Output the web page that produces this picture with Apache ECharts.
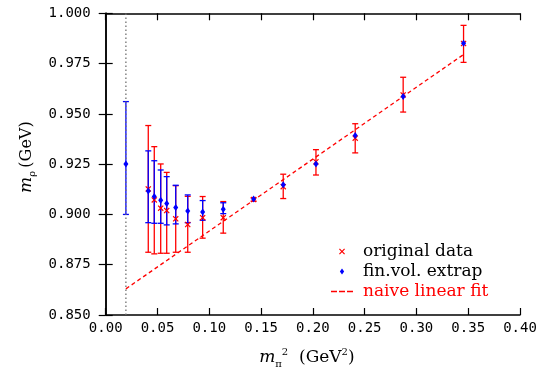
<!DOCTYPE html>
<html>
<head>
<meta charset="utf-8">
<script src="https://cdn.jsdelivr.net/npm/echarts@6/dist/echarts.min.js"></script>
<style>html,body{margin:0;padding:0;background:#fff}#c{width:549px;height:377px}</style>
</head>
<body>
<div id="c"></div>
<script>
// x values (m_pi^2, GeV^2) of the lattice points
const pionX = [0.0411, 0.0469, 0.0531, 0.0589, 0.0676, 0.0792, 0.0936, 0.1135, 0.1428, 0.1714, 0.2030, 0.2409, 0.2872, 0.3455];
// original data (m_rho, GeV) with error range
const origY  = [0.9127, 0.9072, 0.9031, 0.9019, 0.8978, 0.8950, 0.8984, 0.8984, 0.9074, 0.9138, 0.9262, 0.9379, 0.9594, 0.9850];
const origLo = [0.8812, 0.8804, 0.8807, 0.8807, 0.8812, 0.8812, 0.8882, 0.8907, 0.9066, 0.9079, 0.9196, 0.9306, 0.9509, 0.9756];
const origHi = [0.9442, 0.9337, 0.9251, 0.9209, 0.9143, 0.9090, 0.9089, 0.9064, 0.9082, 0.9200, 0.9322, 0.9451, 0.9682, 0.9940];
// finite-volume extrapolated points (first one is at the physical pion mass)
const finX  = [0.0195, 0.0411, 0.0469, 0.0531, 0.0589, 0.0676, 0.0792, 0.0936, 0.1135, 0.1428, 0.1714, 0.2030, 0.2409, 0.2872, 0.3455];
const finY  = [0.9251, 0.9117, 0.9089, 0.9071, 0.9054, 0.9034, 0.9017, 0.9012, 0.9026, 0.9077, 0.9147, 0.9251, 0.9392, 0.9586, 0.9851];
const finLo = [0.9000, 0.8959, 0.8956, 0.8956, 0.8948, 0.8953, 0.8959, 0.8971, 0.9004, null, null, null, null, null, null];
const finHi = [0.9561, 0.9316, 0.9267, 0.9221, 0.9188, 0.9145, 0.9097, 0.9069, 0.9058, null, null, null, null, null, null];
// naive linear fit end points
const fitX = [0.0195, 0.3455];
const fitY = [0.8630, 0.9795];
// physical pion mass squared
const physX = 0.0195;
// axis ranges / ticks
const xMin = 0, xMax = 0.40, xStep = 0.05;
const yMin = 0.85, yMax = 1.0, yStep = 0.025;

const crossPath = 'path://M0,1.4L1.4,0L5,3.6L8.6,0L10,1.4L6.4,5L10,8.6L8.6,10L5,6.4L1.4,10L0,8.6L3.6,5Z';
const diamondPath = 'path://M5,0L10,7L5,14L0,7Z';
const dashPath = 'path://M0,0H6V1.4H0Z M8,0H14V1.4H8Z M16,0H22V1.4H16Z';

function errRender(color) {
  return function (params, api) {
    const x = api.value(0), lo = api.value(1), hi = api.value(2);
    const a = api.coord([x, hi]), b = api.coord([x, lo]);
    const w = 3;
    const st = { stroke: color, lineWidth: 1.3 };
    return {
      type: 'group',
      children: [
        { type: 'line', shape: { x1: a[0], y1: a[1], x2: b[0], y2: b[1] }, style: st },
        { type: 'line', shape: { x1: a[0] - w, y1: a[1], x2: a[0] + w, y2: a[1] }, style: st },
        { type: 'line', shape: { x1: b[0] - w, y1: b[1], x2: b[0] + w, y2: b[1] }, style: st }
      ]
    };
  };
}

const origErr = pionX.map((x, i) => [x, origLo[i], origHi[i]]);
const finErr = finX.map((x, i) => [x, finLo[i], finHi[i]]).filter(d => d[1] !== null);

const axisCommon = {
  type: 'value',
  axisLine: { lineStyle: { color: '#000', width: 1.5 } },
  axisTick: { inside: true, length: 7, lineStyle: { color: '#000', width: 1.2 } },
  splitLine: { show: false }
};
const labelFont = { color: '#000', fontFamily: 'DejaVu Sans Mono', fontSize: 14 };
const serif = 'DejaVu Serif';

const option = {
  animation: false,
  backgroundColor: '#fff',
  grid: { left: 105.7, right: 29, top: 13.3, bottom: 62 },
  xAxis: [
    Object.assign({}, axisCommon, {
      min: xMin, max: xMax, interval: xStep, position: 'bottom',
      axisLabel: Object.assign({ margin: 6, formatter: v => v.toFixed(2) }, labelFont),
      name: '{m|m}{s|π}{p|2}{t|  (GeV}{p|2}{t|)}',
      nameLocation: 'middle', nameGap: 31,
      nameTextStyle: {
        padding: [0, 12, 0, 0],
        rich: {
          m: { fontFamily: serif, fontStyle: 'italic', fontSize: 17, lineHeight: 20, verticalAlign: 'bottom', color: '#000' },
          s: { fontFamily: serif, fontSize: 10, lineHeight: 10, verticalAlign: 'bottom', color: '#000', padding: [0, 0, -3, 0] },
          p: { fontFamily: serif, fontSize: 10, lineHeight: 10, verticalAlign: 'top', color: '#000', padding: [1, 0, 0, 0] },
          t: { fontFamily: serif, fontSize: 17, lineHeight: 20, verticalAlign: 'bottom', color: '#000' }
        }
      }
    }),
    Object.assign({}, axisCommon, {
      min: xMin, max: xMax, interval: xStep, position: 'top',
      axisLabel: { show: false }
    })
  ],
  yAxis: [
    Object.assign({}, axisCommon, {
      min: yMin, max: yMax, interval: yStep, position: 'left',
      axisLabel: Object.assign({ margin: 15, formatter: v => v.toFixed(3) }, labelFont),
      name: '{m|m}{s|ρ} {t|(GeV)}',
      nameLocation: 'middle', nameGap: 55, nameRotate: 90,
      nameTextStyle: {
        padding: [0, 0, 0, 14],
        rich: {
          m: { fontFamily: serif, fontStyle: 'italic', fontSize: 17, lineHeight: 20, verticalAlign: 'bottom', color: '#000' },
          s: { fontFamily: serif, fontSize: 10, lineHeight: 10, verticalAlign: 'bottom', color: '#000', padding: [0, 0, -3, 0] },
          t: { fontFamily: serif, fontSize: 16, lineHeight: 20, verticalAlign: 'bottom', color: '#000' }
        }
      }
    }),
    Object.assign({}, axisCommon, {
      min: yMin, max: yMax, interval: yStep, position: 'right',
      axisLabel: { show: false }
    })
  ],
  legend: {
    orient: 'vertical', left: 326, top: 236.5, itemWidth: 22, itemHeight: 6, itemGap: 0,
    selectedMode: false,
    textStyle: { fontFamily: serif, fontSize: 17, lineHeight: 20, color: '#000', padding: [0, 0, 0, 5] },
    data: [
      { name: 'original data', icon: crossPath },
      { name: 'fin.vol. extrap', icon: diamondPath },
      { name: 'naive linear fit', icon: dashPath, itemStyle: { color: '#ff0000' }, textStyle: { color: '#ff0000' } }
    ]
  },
  series: [
    {
      name: 'physical', type: 'line', symbol: 'none', silent: true,
      data: [[physX, yMin], [physX, yMax]],
      lineStyle: { color: '#707070', width: 1.3, type: [1.5, 2.5] }
    },
    {
      name: 'origErr', type: 'custom', renderItem: errRender('#ff0000'),
      encode: { x: 0, y: [1, 2] }, data: origErr, z: 2
    },
    {
      name: 'finErr', type: 'custom', renderItem: errRender('#0000ff'),
      encode: { x: 0, y: [1, 2] }, data: finErr, z: 2
    },
    {
      name: 'original data', type: 'scatter', symbol: crossPath, symbolSize: 6,
      itemStyle: { color: '#ff0000', opacity: 1 },
      data: pionX.map((x, i) => [x, origY[i]]), z: 3
    },
    {
      name: 'fin.vol. extrap', type: 'scatter', symbol: diamondPath, symbolSize: [5, 7],
      itemStyle: { color: '#0000ff', opacity: 1 },
      data: finX.map((x, i) => [x, finY[i]]), z: 4
    },
    {
      name: 'naive linear fit', type: 'line', symbol: 'none',
      data: fitX.map((x, i) => [x, fitY[i]]),
      itemStyle: { color: '#ff0000' },
      lineStyle: { color: '#ff0000', width: 1.3, type: [4, 3] }, z: 3
    }
  ]
};
const chart = echarts.init(document.getElementById('c'), null, { renderer: 'canvas' });
chart.setOption(option);
</script>
</body>
</html>
